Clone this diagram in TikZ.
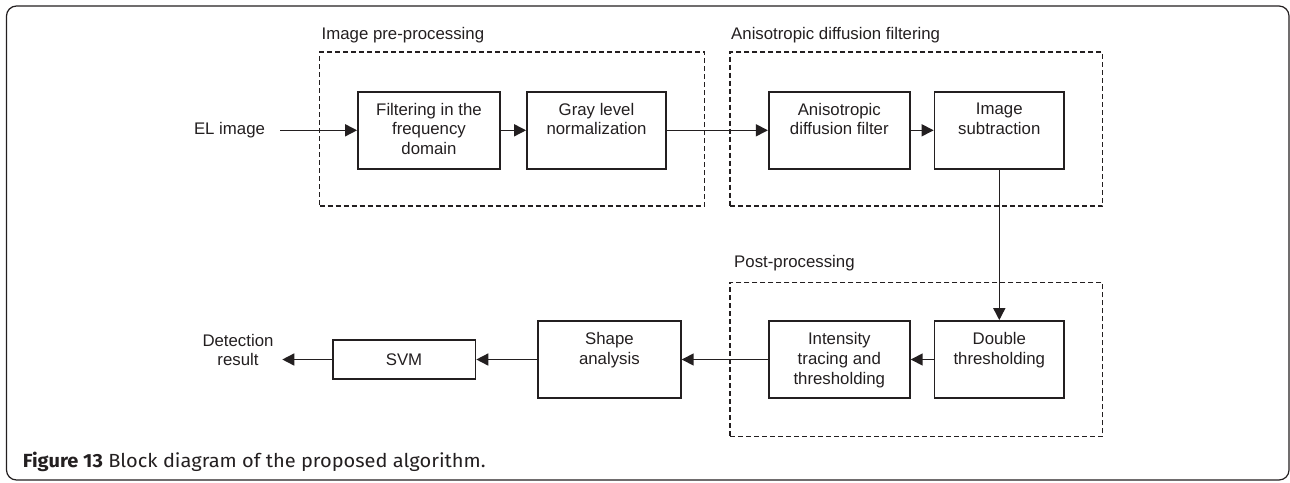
\documentclass[tikz,border=0pt]{standalone}
\usepackage{fontspec}
\setmainfont{Liberation Sans}
\newfontfamily\capfont{Fira Sans}
\usetikzlibrary{arrows.meta}
\definecolor{ink}{HTML}{231F20}
\tikzset{
  block/.style={draw=ink, line width=1.8pt, rectangle, inner sep=0pt, minimum height=77pt},
  group/.style={draw=ink, line width=1.4pt, dash pattern=on 5pt off 3pt, rectangle, inner sep=0pt, minimum height=154pt},
  txt/.style={text=ink, font=\fontsize{16.8}{19.6}\selectfont, align=center, inner sep=0pt},
  flow/.style={draw=ink, line width=1.5pt, -{Triangle[length=12pt,width=12pt]}},
}
\begin{document}
\begin{tikzpicture}[x=1pt,y=-1pt]
\useasboundingbox (0,0) rectangle (1290,482);
% outer frame
\draw[ink, line width=1.2pt, rounded corners=10pt] (6.5,6) rectangle (1289,480);

% stage groups
\node[group, minimum width=385pt] (pre) at (512,129) {};
\node[group, minimum width=372.7pt] (adf) at (916.4,129) {};
\node[group, minimum width=372.7pt] (post) at (916.4,359.7) {};
\node[txt, anchor=base west] (prelbl) at (321.5,39.8) {Image pre-processing};
\node[txt, anchor=base west] (adflbl) at (731,39.8) {Anisotropic diffusion filtering};
\node[txt, anchor=base west] (postlbl) at (734,267.5) {Post-processing};

% processing blocks
\node[block, minimum width=142pt] (f) at (429,130.3) {};
\node[block, minimum width=139pt] (g) at (596.5,130.3) {};
\node[block, minimum width=141pt] (a) at (839.3,130.3) {};
\node[block, minimum width=129.5pt] (s) at (999.3,130.3) {};
\node[block, minimum width=129.5pt] (d) at (999.3,359.5) {};
\node[block, minimum width=141pt] (i) at (839.3,359.5) {};
\node[block, minimum width=142.8pt] (sh) at (609.4,359.5) {};
\node[block, minimum width=142.8pt, minimum height=39.3pt] (svm) at (404,359.5) {};

% block texts
\node[txt, anchor=north] (ft) at ([yshift=-12pt]f.north) {Filtering in the\\frequency\\domain};
\node[txt, anchor=north] (gt) at ([yshift=-12pt]g.north) {Gray level\\normalization};
\node[txt, anchor=north] (at) at ([yshift=-12pt]a.north) {Anisotropic\\diffusion filter};
\node[txt, anchor=north] (st) at ([yshift=-12pt]s.north) {Image\\subtraction};
\node[txt, anchor=north] (dt) at ([yshift=-12.5pt]d.north) {Double\\thresholding};
\node[txt, anchor=north] (it) at ([yshift=-12.5pt]i.north) {Intensity\\tracing and\\thresholding};
\node[txt, anchor=north] (sht) at ([yshift=-12.5pt]sh.north) {Shape\\analysis};
\node[txt] (svmt) at (svm) {SVM};

% input and output
\node[txt] (el) at (229.5,130.3) {EL image};
\node[txt] (det) at (238,350) {Detection\\result};

% connectors
\draw[flow] ([xshift=15pt]el.east) -- (f.west);
\draw[flow] (f) -- (g);
\draw[flow] (g) -- (a);
\draw[flow] (a) -- (s);
\draw[flow] (s) -- (d);
\draw[flow] (d) -- (i);
\draw[flow] (i) -- (sh);
\draw[flow] (sh) -- (svm);
\draw[flow] (svm.west) -- ([xshift=8.6pt]svm.west -| det.east);

% caption
\node[text=ink, anchor=base west, inner sep=0pt, font=\capfont\fontsize{19}{22}\selectfont] (cap) at (22.7,467)
  {\scalebox{1.054}[1]{\textbf{Figure 13} Block diagram of the proposed algorithm.}};
\end{tikzpicture}
\end{document}
